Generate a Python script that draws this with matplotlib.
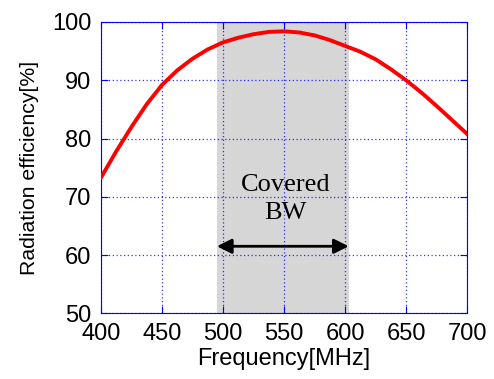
import numpy as np
import matplotlib.pyplot as plt

freq = [400, 412.5, 425, 437.5, 450, 462.5, 475, 487.5, 500, 512.5, 525,
        537.5, 550, 562.5, 575, 587.5, 600, 612.5, 625, 637.5, 650, 662.5,
        675, 687.5, 700]
eff = [73.3, 77.8, 82.0, 85.9, 89.2, 91.7, 93.7, 95.3, 96.5, 97.3, 97.9,
       98.3, 98.4, 98.2, 97.7, 96.9, 95.9, 94.9, 93.6, 91.9, 90.0, 87.9,
       85.6, 83.2, 80.8]

bw_lo, bw_hi = 495, 603
arrow_y = 61.5
x_ticks = [400, 450, 500, 550, 600, 650, 700]
y_ticks = [50, 60, 70, 80, 90, 100]

fig = plt.figure(figsize=(4.94, 3.79), dpi=100)
ax = fig.add_axes([0.2045, 0.1734, 0.7409, 0.7686])

ax.axvspan(bw_lo, bw_hi, color="#d6d6d6", zorder=0, lw=0)
ax.plot(freq, eff, color="red", lw=2.8, zorder=3, solid_joinstyle="round")

ax.annotate("", xy=(bw_lo, arrow_y), xytext=(bw_hi, arrow_y),
            arrowprops=dict(arrowstyle="<|-|>", color="black", lw=2,
                            mutation_scale=22, shrinkA=0, shrinkB=0),
            zorder=4)
ax.text(551, 69.6, "Covered\nBW", ha="center", va="center",
        fontsize=19, family="Liberation Serif", linespacing=1.38, zorder=4)

ax.set_xlim(400, 700)
ax.set_ylim(50, 100)
ax.set_xticks(x_ticks)
ax.set_yticks(y_ticks)
ax.set_axisbelow(False)
ax.grid(True, color="blue", linestyle=(0, (1, 2)), lw=0.9, alpha=0.8)
for s in ax.spines.values():
    s.set_color("blue")
ax.tick_params(direction="in", length=5, color="blue", top=True, right=True,
               labelsize=17, labelcolor="black", pad=7)
for lab in ax.get_xticklabels() + ax.get_yticklabels():
    lab.set_family("Liberation Sans")

ax.set_xlabel("Frequency[MHz]", fontsize=17, family="Liberation Sans", labelpad=2.5)
ax.set_ylabel("Radiation efficiency[%]", fontsize=15.3, family="Liberation Sans", labelpad=9)

fig.savefig("out.png", dpi=100)
